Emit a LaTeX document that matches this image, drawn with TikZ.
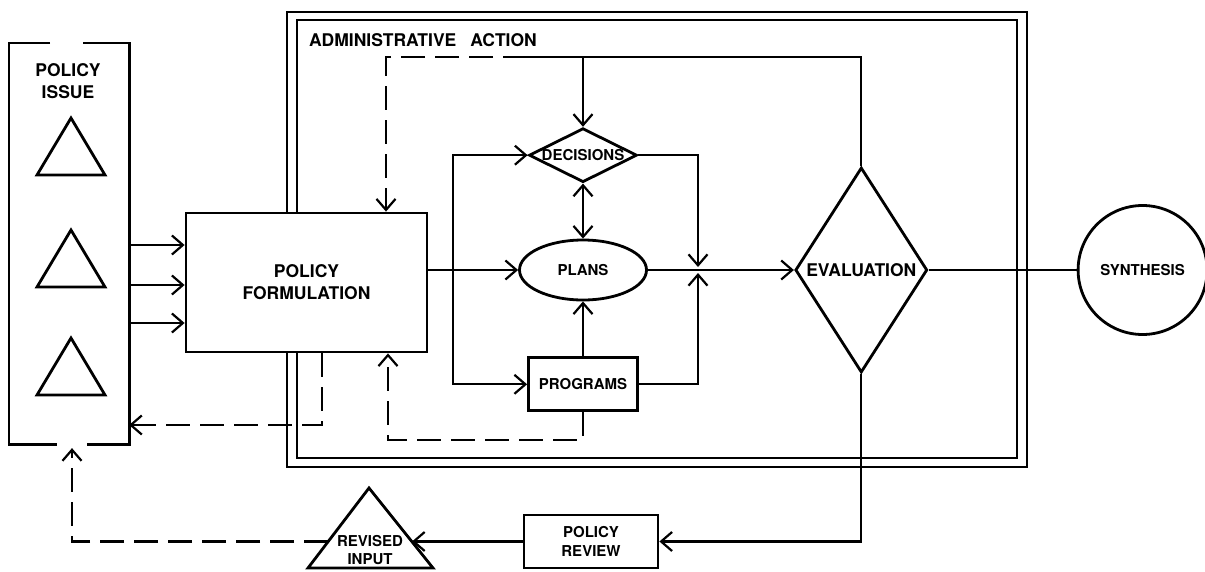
\documentclass[tikz,border=0pt]{standalone}
\usepackage{fontspec}
\setmainfont{TeX Gyre Heros}
\usetikzlibrary{positioning, arrows.meta, shapes.geometric}

\begin{document}
\begin{tikzpicture}[
	x=1pt, y=-1pt,
	line width=2.2pt,
	bigtext/.style={font=\fontsize{17.5}{22}\selectfont\bfseries, align=center, inner sep=0pt},
	smalltext/.style={font=\fontsize{15}{18.5}\selectfont\bfseries, align=center, inner sep=0pt},
	block/.style={rectangle, draw, line width=2.8pt, fill=white, inner sep=0pt},
	dashback/.style={dash pattern=on 24pt off 10pt},
	>={Straight Barb[length=11pt, width=19pt]}
]

\path[fill=white, use as bounding box] (0,0) rectangle (1205,571);

% administrative action frame
\draw[line width=2.2pt] (287,12) rectangle (1027,467);
\draw[line width=2.2pt] (297,20) rectangle (1017,458);
\node[bigtext, anchor=west] (admintext) at (308,40) {ADMINISTRATIVE\hspace{0.8em}ACTION};

% policy issue
\node[minimum width=118pt, minimum height=399pt, inner sep=0pt] (issue) at (69,243.5) {};
\draw[line width=2.8pt] ([xshift=-19pt]issue.north) -| (issue.south west) -- ([xshift=-12pt]issue.south);
\draw[line width=2.8pt] ([xshift=14pt]issue.north) -| (issue.south east) -- ([xshift=18pt]issue.south);
\node[bigtext] (issuetext) at (68,81) {POLICY\\ISSUE};
\foreach \ty in {118,230,338}
	\draw[line width=2.8pt] (71,\ty) -- ++(34,57) -- ++(-68,0) -- cycle;

\node[block, bigtext, minimum width=241pt, minimum height=139pt] (formulation) at (306.5,282.5) {POLICY\\FORMULATION};

\node[ellipse, draw, line width=2.8pt, smalltext, minimum width=127pt, minimum height=60pt] (plans) at (583,270) {PLANS};
\node[diamond, aspect=2, draw, line width=2.8pt, smalltext, minimum width=108pt, minimum height=54pt, above=55pt of plans] (decisions) {DECISIONS};
\node[block, smalltext, minimum width=109pt, minimum height=53pt, below=55pt of plans] (programs) {PROGRAMS};

\node[diamond, aspect=0.64, draw, line width=2.8pt, bigtext, minimum width=132pt, minimum height=205pt, right=146pt of plans] (evaluation) {EVALUATION};
\node[circle, draw, line width=2.8pt, smalltext, minimum size=129pt, right=148pt of evaluation] (synthesis) {SYNTHESIS};

\node[block, smalltext, minimum width=134pt, minimum height=53pt] (review) at (591,541.5) {POLICY\\REVIEW};

% revised input
\coordinate (revtop) at (369,488);
\draw[line width=2.8pt] (revtop) -- (433,568) -- (308,568) -- cycle;
\node[smalltext] (revised) at (370,550) {REVISED\\INPUT};
\coordinate (revin) at (412,541.5);
\coordinate (revout) at (328,541.5);

% connectors
\foreach \y in {245,285,323}
	\draw[->] (issue.east |- 0,\y) -- (formulation.west |- 0,\y);

\coordinate (fdrop) at (322,425);
\draw[dashback, ->] (formulation.south -| fdrop) |- (issue.east |- fdrop);

\draw[->] (formulation.east |- plans.west) -- (plans.west);

\coordinate (loop) at (453,270);
\draw[<->] (decisions.west) -| (loop) |- (programs.west);

\draw[<->] (decisions.south) -- (plans.north);
\draw[->] (programs.north) -- (plans.south);

\coordinate (merge) at (698,270);
\draw[->] (decisions.east) -| ([yshift=3pt]merge);
\draw[->] (programs.east) -| ([yshift=-3pt]merge);
\draw[->] (plans.east) -- (evaluation.west);
\draw (evaluation.east) -- (synthesis.west);

% feedback over the top
\coordinate (toplft) at (386,57);
\coordinate (topbrk) at (527,57);
\draw (evaluation.north) |- (topbrk);
\draw[->] (decisions.north |- topbrk) -- (decisions.north);
\draw[dashback, ->] (topbrk) -- (toplft) -- (formulation.north -| toplft);

\coordinate (pdrop) at (388,440);
\draw[dashback, ->] (programs.south) |- (pdrop) -- (formulation.south -| pdrop);

% review loop
\draw[->] (evaluation.south) |- (review.east);
\draw[->] (review.west) -- (revin);
\draw[dashback, ->] (revout) -| ([xshift=3pt, yshift=-4pt]issue.south);

\end{tikzpicture}
\end{document}
